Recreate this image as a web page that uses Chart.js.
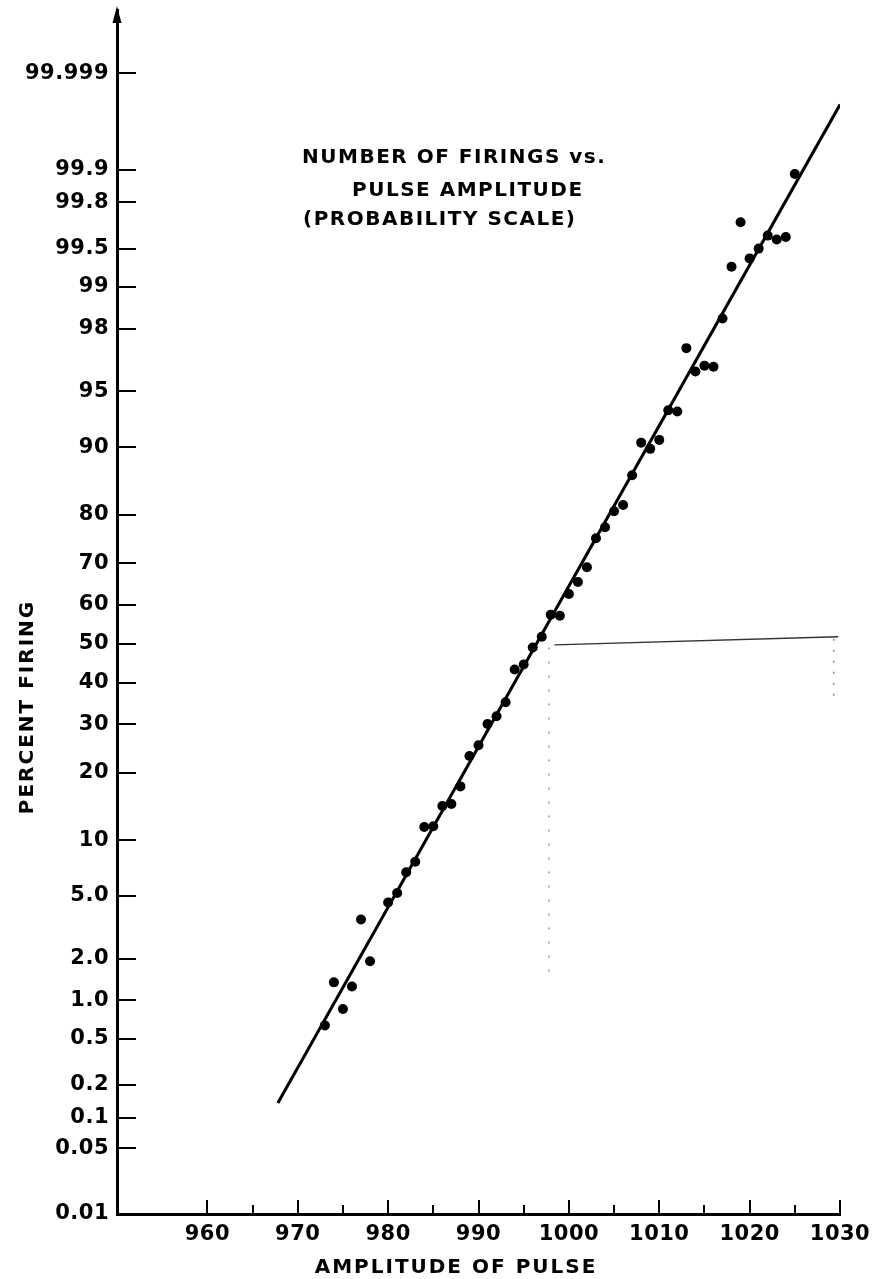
<!DOCTYPE html>
<html>
<head>
<meta charset="utf-8">
<title>Number of firings vs. pulse amplitude</title>
<script src="https://cdn.jsdelivr.net/npm/chart.js@4.4.1/dist/chart.umd.min.js"></script>
<style>
  html, body { margin: 0; padding: 0; background: #fff; }
  canvas { display: block; }
</style>
</head>
<body>
<canvas id="chart" width="883" height="1279"></canvas>
<script>
// Pulse amplitude of each trial group
const amplitudes = [
  973, 974, 975, 976, 977, 978, 980, 981, 982, 983, 984, 985, 986, 987, 988, 989,
  990, 991, 992, 993, 994, 995, 996, 997, 998, 999, 1000, 1001, 1002, 1003, 1004,
  1005, 1006, 1007, 1008, 1009, 1010, 1011, 1012, 1013, 1014, 1015, 1016, 1017,
  1018, 1019, 1020, 1021, 1022, 1023, 1024, 1025
];
// Percentage of trials that fired at each amplitude
const percentFiring = [
  0.64, 1.36, 0.86, 1.27, 3.6, 1.92, 4.57, 5.2, 6.8, 7.75, 11.6, 11.7, 14.5, 14.8, 17.6, 23.2,
  25.4, 30.0, 31.8, 35.1, 43.3, 44.6, 49.0, 51.8, 57.5, 57.2, 62.7, 65.6, 69.1, 75.4, 77.6,
  80.6, 81.7, 86.4, 90.5, 89.8, 90.8, 93.6, 93.5, 97.3, 96.2, 96.5, 96.45, 98.3,
  99.3, 99.70, 99.40, 99.50, 99.61, 99.58, 99.60, 99.89
];

// Straight line fitted on probability paper (end points)
const fitAmplitude = [967.8, 1030];
const fitPercent = [0.137, 99.978];

// Faint frame of a pasted-on label in the lower right
const frameTopAmplitude = [998.4, 1029.8];
const frameTopPercent = [49.7, 51.8];
const frameLeftAmplitude = [997.8, 997.8];
const frameLeftPercent = [49.0, 1.6];
const frameRightAmplitude = [1029.3, 1029.3];
const frameRightPercent = [51.3, 35.0];

// Axis ranges and ticks
const xRange = [950, 1030];
const xTickValues = [960, 970, 980, 990, 1000, 1010, 1020, 1030];
const xMinorTicks = [965, 975, 985, 995, 1005, 1015, 1025];
const yRangePercent = [0.01, 99.9982];
// the top line of the paper carries the 99.999 label
const yTickPercent = [99.99, 99.9, 99.8, 99.5, 99, 98, 95, 90, 80, 70, 60, 50, 40, 30, 20, 10, 5, 2, 1, 0.5, 0.2, 0.1, 0.05, 0.01];
const yTickLabels = ['99.999', '99.9', '99.8', '99.5', '99', '98', '95', '90', '80', '70', '60', '50', '40', '30', '20', '10', '5.0', '2.0', '1.0', '0.5', '0.2', '0.1', '0.05', '0.01'];

const titleLines = ['NUMBER OF FIRINGS vs.', 'PULSE AMPLITUDE', '(PROBABILITY SCALE)'];
const xAxisTitle = 'AMPLITUDE OF PULSE';
const yAxisTitle = 'PERCENT FIRING';

const FONT = '"DejaVu Sans", "Liberation Sans", sans-serif';

// Inverse of the standard normal CDF (percent -> z), used for the probability scale
function probit(pct) {
  const p = pct / 100;
  const a = [-3.969683028665376e+01, 2.209460984245205e+02, -2.759285104469687e+02,
             1.383577518672690e+02, -3.066479806614716e+01, 2.506628277459239e+00];
  const b = [-5.447609879822406e+01, 1.615858368580409e+02, -1.556989798598866e+02,
             6.680131188771972e+01, -1.328068155288572e+01];
  const c = [-7.784894002430293e-03, -3.223964580411365e-01, -2.400758277161838e+00,
             -2.549732539343734e+00, 4.374664141464968e+00, 2.938163982698783e+00];
  const d = [7.784695709041462e-03, 3.224671290700398e-01, 2.445134137142996e+00,
             3.754408661907416e+00];
  const pLow = 0.02425, pHigh = 1 - pLow;
  let q, r;
  if (p < pLow) {
    q = Math.sqrt(-2 * Math.log(p));
    return (((((c[0]*q+c[1])*q+c[2])*q+c[3])*q+c[4])*q+c[5]) / ((((d[0]*q+d[1])*q+d[2])*q+d[3])*q+1);
  }
  if (p <= pHigh) {
    q = p - 0.5; r = q * q;
    return (((((a[0]*r+a[1])*r+a[2])*r+a[3])*r+a[4])*r+a[5])*q / (((((b[0]*r+b[1])*r+b[2])*r+b[3])*r+b[4])*r+1);
  }
  q = Math.sqrt(-2 * Math.log(1 - p));
  return -(((((c[0]*q+c[1])*q+c[2])*q+c[3])*q+c[4])*q+c[5]) / ((((d[0]*q+d[1])*q+d[2])*q+d[3])*q+1);
}

const toPoints = (xs, pcts) => xs.map((x, i) => ({ x: x, y: probit(pcts[i]) }));

// Inward tick marks, axis arrow and hand-lettered titles
const paperDecor = {
  id: 'paperDecor',
  beforeDraw(chart) {
    chart.ctx.letterSpacing = '0.5px';
  },
  afterDraw(chart) {
    const { ctx, chartArea: { left, top, bottom }, scales: { x, y } } = chart;
    ctx.save();
    ctx.strokeStyle = '#000';
    ctx.lineWidth = 2;
    ctx.beginPath();
    yTickPercent.forEach(p => {
      const py = Math.round(y.getPixelForValue(probit(p)));
      ctx.moveTo(left, py);
      ctx.lineTo(left + 19, py);
    });
    xTickValues.forEach(v => {
      const px = Math.round(x.getPixelForValue(v));
      ctx.moveTo(px, bottom);
      ctx.lineTo(px, bottom - 14);
    });
    xMinorTicks.forEach(v => {
      const px = Math.round(x.getPixelForValue(v));
      ctx.moveTo(px, bottom);
      ctx.lineTo(px, bottom - 9);
    });
    ctx.stroke();

    // arrow head on top of the vertical axis
    ctx.fillStyle = '#000';
    ctx.beginPath();
    ctx.moveTo(left, top - 4);
    ctx.lineTo(left - 4.5, top + 13);
    ctx.lineTo(left + 4.5, top + 13);
    ctx.closePath();
    ctx.fill();

    // chart title inside the plot
    ctx.letterSpacing = '1.5px';
    ctx.font = 'bold 20px ' + FONT;
    ctx.textBaseline = 'middle';
    ctx.textAlign = 'left';
    ctx.fillText(titleLines[0], left + 185, top + 148);
    ctx.fillText(titleLines[1], left + 235, top + 181);
    ctx.fillText(titleLines[2], left + 186, top + 210);

    // axis titles
    ctx.letterSpacing = '2px';
    ctx.font = 'bold 20px ' + FONT;
    ctx.textAlign = 'center';
    ctx.fillText(xAxisTitle, left + 339, bottom + 54);
    ctx.translate(28, (top + bottom) / 2 + 95);
    ctx.rotate(-Math.PI / 2);
    ctx.fillText(yAxisTitle, 0, 0);
    ctx.restore();
  }
};

new Chart(document.getElementById('chart'), {
  type: 'scatter',
  data: {
    datasets: [
      {
        label: 'Percent firing',
        data: toPoints(amplitudes, percentFiring),
        pointRadius: 5,
        pointBackgroundColor: '#000',
        pointBorderWidth: 0,
        order: 0
      },
      {
        label: 'Fitted line',
        data: toPoints(fitAmplitude, fitPercent),
        showLine: true,
        borderColor: '#000',
        borderWidth: 3,
        pointRadius: 0,
        order: 1
      },
      {
        label: 'Frame top',
        data: toPoints(frameTopAmplitude, frameTopPercent),
        showLine: true,
        borderColor: '#333',
        borderWidth: 1.3,
        pointRadius: 0,
        order: 2
      },
      {
        label: 'Frame left',
        data: toPoints(frameLeftAmplitude, frameLeftPercent),
        showLine: true,
        borderColor: '#9a9a9a',
        borderWidth: 1.5,
        borderDash: [2, 12],
        pointRadius: 0,
        order: 3
      },
      {
        label: 'Frame right',
        data: toPoints(frameRightAmplitude, frameRightPercent),
        showLine: true,
        borderColor: '#888',
        borderWidth: 1.5,
        borderDash: [2, 9],
        pointRadius: 0,
        order: 3
      }
    ]
  },
  options: {
    responsive: false,
    animation: false,
    events: [],
    layout: { padding: { top: 10, right: 43, left: 0, bottom: 0 } },
    plugins: {
      legend: { display: false },
      tooltip: { enabled: false },
      title: { display: false }
    },
    scales: {
      x: {
        type: 'linear',
        position: 'bottom',
        min: xRange[0],
        max: xRange[1],
        bounds: 'data',
        afterBuildTicks: s => { s.ticks = xTickValues.map(v => ({ value: v })); },
        afterFit: s => { s.height = 65; s.paddingLeft = 0; s.paddingRight = 0; },
        grid: { display: false, drawTicks: false },
        border: { display: true, color: '#000', width: 3 },
        ticks: {
          color: '#000',
          font: { family: FONT, size: 21, weight: 'bold' },
          padding: 8,
          maxRotation: 0,
          autoSkip: false,
          callback: v => String(v)
        }
      },
      y: {
        type: 'linear',
        position: 'left',
        min: probit(yRangePercent[0]),
        max: probit(yRangePercent[1]),
        bounds: 'data',
        afterBuildTicks: s => { s.ticks = yTickPercent.map(p => ({ value: probit(p) })); },
        afterFit: s => { s.width = 117; s.paddingTop = 0; s.paddingBottom = 0; },
        grid: { display: false, drawTicks: false },
        border: { display: true, color: '#000', width: 3 },
        ticks: {
          color: '#000',
          font: { family: FONT, size: 21, weight: 'bold' },
          padding: 8,
          autoSkip: false,
          callback: (v, i) => yTickLabels[i]
        }
      }
    }
  },
  plugins: [paperDecor]
});
</script>
</body>
</html>
